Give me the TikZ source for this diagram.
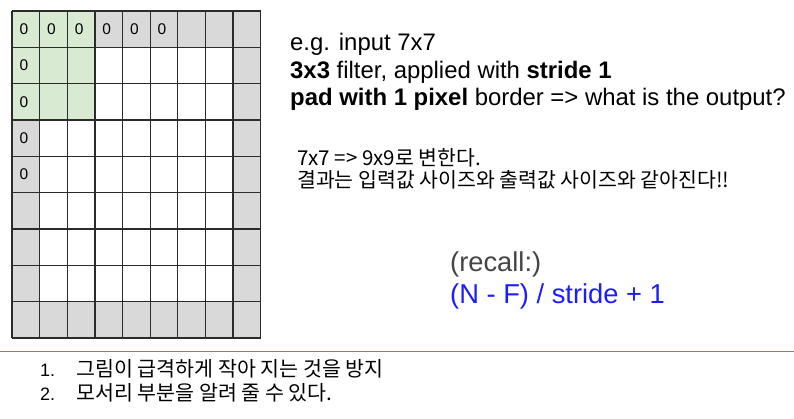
\documentclass[tikz,border=0pt]{standalone}
\usepackage{fontspec}
\setmainfont{Liberation Sans}
\newfontfamily\kr{Noto Sans CJK KR}
\definecolor{padgray}{HTML}{D9D9D9}
\definecolor{filtgreen}{HTML}{D9EAD3}
\definecolor{gridline}{HTML}{2B2B2B}
\definecolor{rulecol}{HTML}{A8766A}
\definecolor{formblue}{HTML}{1C1CFF}
\definecolor{recallgray}{HTML}{444444}
\tikzset{
  zero/.style={font=\fontsize{15.5}{15.5}\selectfont, inner sep=0pt},
  maintext/.style={anchor=base west, inner sep=0pt, font=\fontsize{23.9}{26}\selectfont},
  krtext/.style={anchor=base west, inner sep=0pt, font=\kr\fontsize{20.5}{23}\selectfont},
  bigtext/.style={anchor=base west, inner sep=0pt, font=\fontsize{27.3}{30}\selectfont},
  listtext/.style={anchor=base west, inner sep=0pt, font=\kr\fontsize{20.6}{23}\selectfont},
  listnum/.style={anchor=base west, inner sep=0pt, font=\fontsize{18}{20}\selectfont},
  gridln/.style={gridline, line width=1.3pt},
}
\begin{document}
\begin{tikzpicture}[x=1pt,y=-1pt]
\useasboundingbox[fill=white] (0,0) rectangle (794,419);
\def\gx{12}\def\gy{11}\def\cw{27.63}\def\ch{36.33}
% padding (gray), inner (white), filter (green)
\fill[padgray] (\gx,\gy) rectangle ({\gx+9*\cw},{\gy+9*\ch});
\fill[white] ({\gx+\cw},{\gy+\ch}) rectangle ({\gx+8*\cw},{\gy+8*\ch});
\fill[filtgreen] (\gx,\gy) rectangle ({\gx+3*\cw},{\gy+3*\ch});
% grid lines
\foreach \k in {0,...,9} {
  \draw[gridln] ({\gx+\k*\cw},\gy) -- ({\gx+\k*\cw},{\gy+9*\ch});
  \draw[gridln] (\gx,{\gy+\k*\ch}) -- ({\gx+9*\cw},{\gy+\k*\ch});
}
% zeros
\foreach \c in {0,...,5}
  \node[zero] (zt\c) at ({\gx+(\c+0.5)*\cw-2},{\gy+0.5*\ch}) {0};
\foreach \r in {1,...,4}
  \node[zero] (zl\r) at ({\gx+0.5*\cw-2},{\gy+(\r+0.5)*\ch}) {0};
% description text
\node[maintext] (l1) at (290,51) {e.g. input 7x7};
\node[maintext] (l2) at (290,78.5) {\textbf{3x3} filter, applied with \textbf{stride 1}};
\node[maintext] (l3) at (290,106) {\textbf{pad with 1 pixel} border => what is the output?};
% Korean notes
\node[krtext] (k1) at (297,166) {7x7 => 9x9로 변한다.};
\node[krtext] (k2) at (297,188) {결과는 입력값 사이즈와 출력값 사이즈와 같아진다!!};
% recall
\node[bigtext, text=recallgray] (rc) at (450,271.7) {(recall:)};
\node[bigtext, text=formblue] (fm) at (450,303.3) {(N - F) / stride + 1};
% rule
\draw[rulecol, line width=0.9pt] (0,351) -- (794,351);
% list
\node[listnum] (n1) at (40,376) {1.};
\node[listtext] (t1) at (76,376) {그림이 급격하게 작아 지는 것을 방지};
\node[listnum] (n2) at (40,400) {2.};
\node[listtext] (t2) at (76,400) {모서리 부분을 알려 줄 수 있다.};
\end{tikzpicture}
\end{document}
